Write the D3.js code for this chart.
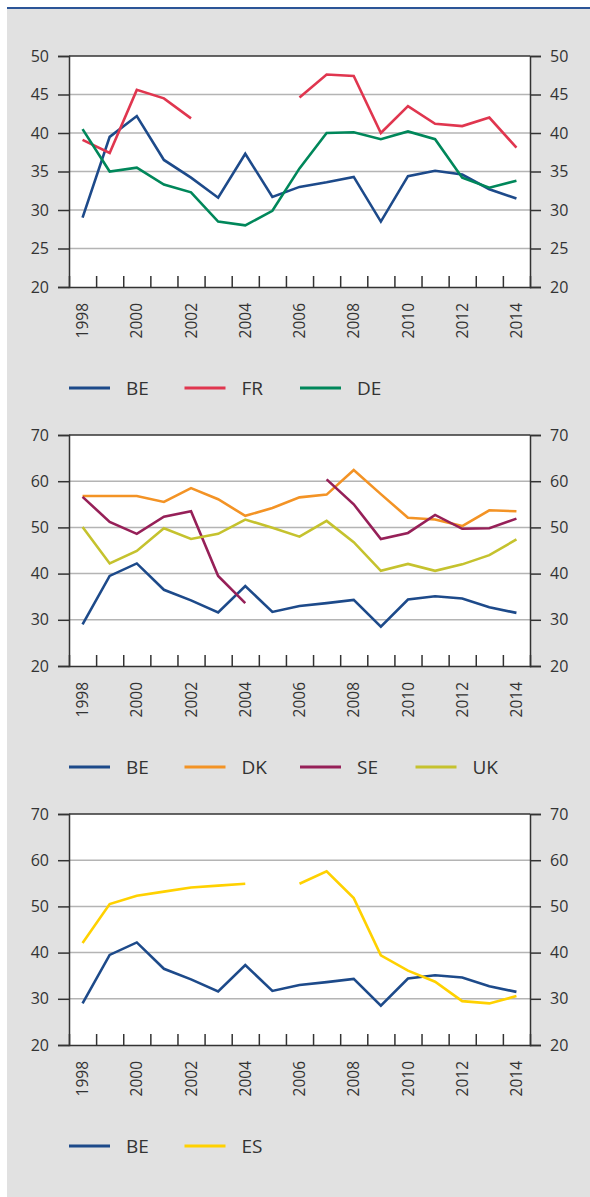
<!DOCTYPE html>
<html>
<head>
<meta charset="utf-8">
<script src="https://cdn.jsdelivr.net/npm/d3@7"></script>
<style>
  body { margin: 0; background: #fff; }
  svg { display: block; font-family: "Open Sans", sans-serif; }
</style>
</head>
<body>
<div id="chart"></div>
<script>
// data
var years = [1998, 1999, 2000, 2001, 2002, 2003, 2004, 2005, 2006, 2007, 2008, 2009, 2010, 2011, 2012, 2013, 2014];
var yearLabels = [1998, 2000, 2002, 2004, 2006, 2008, 2010, 2012, 2014];

var be = [29.0, 39.5, 42.2, 36.5, 34.2, 31.6, 37.3, 31.7, 33.0, 33.6, 34.3, 28.5, 34.4, 35.1, 34.6, 32.7, 31.5];
var fr = [39.1, 37.4, 45.6, 44.5, 41.9, null, null, null, 44.6, 47.6, 47.4, 40.0, 43.5, 41.2, 40.9, 42.0, 38.1];
var de = [40.5, 35.0, 35.5, 33.3, 32.3, 28.5, 28.0, 29.9, 35.4, 40.0, 40.1, 39.2, 40.2, 39.2, 34.2, 32.9, 33.8];
var dk = [56.8, 56.8, 56.8, 55.5, 58.5, 56.1, 52.5, 54.2, 56.5, 57.1, 62.4, 57.2, 52.1, 51.7, 50.3, 53.7, 53.5];
var se = [56.6, 51.2, 48.6, 52.3, 53.5, 39.5, 33.6, null, null, 60.4, 55.0, 47.5, 48.8, 52.7, 49.7, 49.8, 51.9];
var uk = [50.1, 42.2, 44.9, 49.8, 47.5, 48.6, 51.7, 49.9, 48.0, 51.4, 46.8, 40.6, 42.1, 40.6, 42.0, 44.0, 47.4];
var es = [42.1, 50.5, 52.3, 53.2, 54.1, 54.5, 54.9, null, 54.9, 57.6, 51.8, 39.4, 36.1, 33.7, 29.5, 29.0, 30.6];

var ticks1 = [20, 25, 30, 35, 40, 45, 50];
var ticks2 = [20, 30, 40, 50, 60, 70];

var colors = { BE: '#1d4a8a', FR: '#e0364f', DE: '#00875a', DK: '#f39325', SE: '#962058', UK: '#c5c22e', ES: '#ffd100' };

var panels = [
  { top: 56, ticks: ticks1, series: [['BE', be], ['FR', fr], ['DE', de]] },
  { top: 435, ticks: ticks2, series: [['BE', be], ['DK', dk], ['SE', se], ['UK', uk]] },
  { top: 814, ticks: ticks2, series: [['BE', be], ['ES', es]] }
];

var W = 590, H = 1197;
var left = 69, right = 530, ph = 231;

var svg = d3.select('#chart').append('svg')
  .attr('width', W)
  .attr('height', H);

svg.append('rect')
  .attr('x', 7).attr('y', 9)
  .attr('width', W - 7).attr('height', H - 9)
  .attr('fill', '#e1e1e1');

svg.append('line')
  .attr('x1', 7).attr('x2', W)
  .attr('y1', 8).attr('y2', 8)
  .attr('stroke', '#2c5597')
  .attr('stroke-width', 2);

var x = d3.scaleBand().domain(years).range([left, right]);
var xb = d3.scaleLinear().domain([0, years.length]).range([left, right]);

panels.forEach(function(p) {
  var g = svg.append('g').attr('transform', 'translate(0,' + p.top + ')');
  var y = d3.scaleLinear()
    .domain([p.ticks[0], p.ticks[p.ticks.length - 1]])
    .range([ph, 0]);

  g.append('rect')
    .attr('x', left).attr('y', 0)
    .attr('width', right - left).attr('height', ph)
    .attr('fill', '#fff');

  // gridlines
  g.selectAll('.grid')
    .data(p.ticks.slice(1, -1))
    .enter().append('line')
      .attr('x1', left).attr('x2', right)
      .attr('y1', function(d) { return y(d); })
      .attr('y2', function(d) { return y(d); })
      .attr('stroke', '#b4b4b4')
      .attr('stroke-width', 1.5);

  // lines
  var line = d3.line()
    .defined(function(d) { return d != null; })
    .x(function(d, i) { return x(years[i]) + x.bandwidth() / 2; })
    .y(function(d) { return y(d); });

  p.series.forEach(function(s) {
    g.append('path')
      .datum(s[1])
      .attr('d', line)
      .attr('fill', 'none')
      .attr('stroke', colors[s[0]])
      .attr('stroke-width', 2.6)
      .attr('stroke-linejoin', 'miter');
  });

  // frame top
  g.append('line')
    .attr('x1', left).attr('x2', right)
    .attr('y1', 0).attr('y2', 0)
    .attr('stroke', '#333').attr('stroke-width', 1.5);

  var yl = g.append('g')
    .attr('transform', 'translate(' + left + ',0)')
    .call(d3.axisLeft(y).tickValues(p.ticks).tickSize(11).tickPadding(9));
  var yr = g.append('g')
    .attr('transform', 'translate(' + right + ',0)')
    .call(d3.axisRight(y).tickValues(p.ticks).tickSize(11).tickPadding(9));

  // inward ticks between years
  var xt = g.append('g')
    .attr('transform', 'translate(0,' + ph + ')')
    .call(d3.axisBottom(xb).tickValues(d3.range(1, years.length)).tickSize(-11).tickFormat(''));

  var xlab = g.append('g')
    .attr('transform', 'translate(0,' + ph + ')')
    .call(d3.axisBottom(x).tickValues(yearLabels).tickSize(0));
  xlab.select('.domain').remove();
  xlab.selectAll('text')
    .attr('transform', 'rotate(-90)')
    .attr('x', -16)
    .attr('y', 0)
    .attr('dy', '0.36em')
    .style('text-anchor', 'end')
    .style('font-size', '15.5px');

  [yl, yr, xt].forEach(function(a) {
    a.select('.domain').attr('stroke', '#333').attr('stroke-width', 1.5);
    a.selectAll('.tick line').attr('stroke', '#333').attr('stroke-width', 1.5);
  });
  [yl, yr, xlab].forEach(function(a) {
    a.selectAll('text').attr('fill', '#333').attr('font-family', '"Open Sans", sans-serif');
  });
  yl.selectAll('text').style('font-size', '16px');
  yr.selectAll('text').style('font-size', '16px');

  // legend
  var leg = g.selectAll('.leg')
    .data(p.series)
    .enter().append('g')
      .attr('transform', function(d, i) { return 'translate(' + (left + i * 115.5) + ',' + (ph + 101) + ')'; });
  leg.append('line')
    .attr('x1', 0).attr('x2', 41)
    .attr('stroke', function(d) { return colors[d[0]]; })
    .attr('stroke-width', 3);
  leg.append('text')
    .attr('x', 57)
    .attr('dy', '0.36em')
    .attr('fill', '#333')
    .style('font-size', '19px')
    .text(function(d) { return d[0]; });
});
</script>
</body>
</html>
